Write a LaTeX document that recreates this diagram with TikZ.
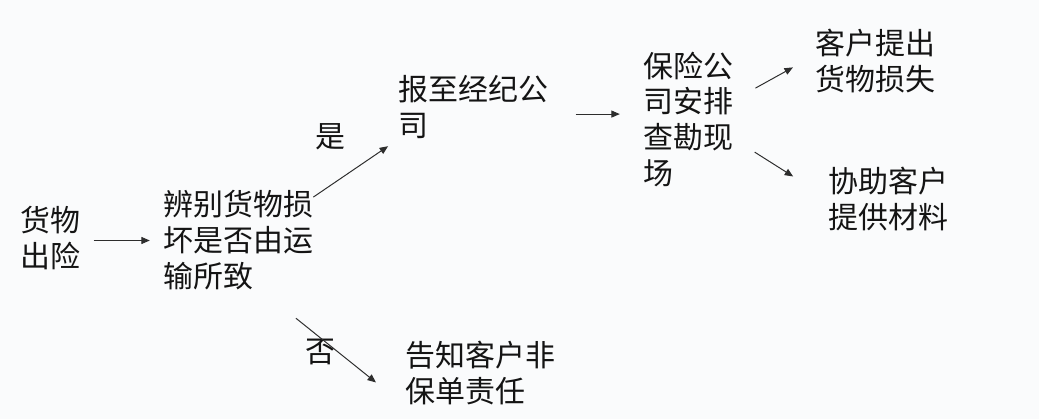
\documentclass[tikz,border=0pt]{standalone}
\usepackage{fontspec}
\newfontfamily\cjk{Noto Sans CJK SC}
\usetikzlibrary{arrows.meta}
\definecolor{bgpaper}{RGB}{250,251,252}
\definecolor{inkgray}{RGB}{45,45,45}
\begin{document}
\begin{tikzpicture}[x=0.025cm, y=-0.025cm,
    stage/.style={anchor=west, inner sep=0pt, align=left, text=black!92, font=\cjk\fontsize{21.3pt}{25.6pt}\selectfont},
    answer/.style={inner sep=0pt, text=black!92, font=\cjk\fontsize{21.3pt}{25.6pt}\selectfont},
    arrow/.style={-{Triangle[length=6pt, width=5pt]}, draw=inkgray, line width=0.7pt}
]
    % Canvas
    \fill[bgpaper] (0,0) rectangle (1039,419);
    \useasboundingbox (0,0) rectangle (1039,419);

    % Start and check
    \node[stage] (cargo) at (20, 238) {货物\\出险};
    \node[stage] (judge) at (163, 240.5) {辨别货物损\\坏是否由运\\输所致};

    % Two outcomes
    \node[stage] (report) at (398, 107.5) {报至经纪公\\司};
    \node[stage] (notify) at (405, 373.5) {告知客户非\\保单责任};

    % Insurer side
    \node[stage] (survey) at (643, 119.5) {保险公\\司安排\\查勘现\\场};
    \node[stage] (claim) at (815, 61.5) {客户提出\\货物损失};
    \node[stage] (assist) at (828, 198.5) {协助客户\\提供材料};

    % Branch labels
    \node[answer] (yes) at (330, 137) {是};
    \node[answer] (no) at (320, 352) {否};

    % Arrows
    \draw[arrow, shorten <=0.33cm, shorten >=0.33cm] (judge.west -| cargo.east) -- (judge.west);
    \draw[arrow, shorten >=0.3cm] (judge.30) -- (report.south west);
    \draw[arrow, shorten <=1.1cm, shorten >=0.93cm] (judge.-65) -- (notify.south west);
    \draw[arrow, shorten <=0.68cm, shorten >=0.58cm] (report.-5) -- (report.-5 -| survey.west);
    \draw[arrow, shorten <=0.63cm, shorten >=0.63cm] (survey.23) -- (claim.174);
    \draw[arrow, shorten <=0.63cm, shorten >=1.03cm] (survey.-23) -- (assist.west);
\end{tikzpicture}
\end{document}
